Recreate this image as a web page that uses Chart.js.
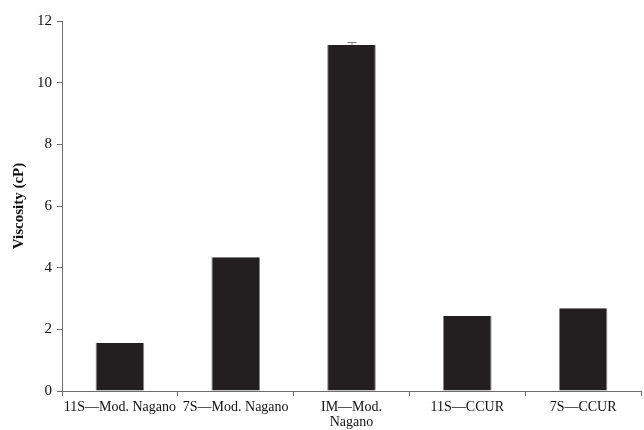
<!DOCTYPE html>
<html>
<head>
<meta charset="utf-8">
<script src="https://cdn.jsdelivr.net/npm/chart.js@4.4.1/dist/chart.umd.min.js"></script>
<style>
  html, body { margin: 0; padding: 0; background: #fff; }
  #wrap { width: 644px; height: 430px; }
</style>
</head>
<body>
<div id="wrap"><canvas id="c" width="644" height="430"></canvas></div>
<script>
// Viscosity of protein isolates by preparation method
const categories = [
  '11S\u2014Mod. Nagano',
  '7S\u2014Mod. Nagano',
  ['IM\u2014Mod.', 'Nagano'],
  '11S\u2014CCUR',
  '7S\u2014CCUR'
];
const viscosity = [1.56, 4.34, 11.22, 2.43, 2.68];
const viscosityErr = [0, 0, 0.1, 0, 0];
const yTicks = [0, 2, 4, 6, 8, 10, 12];

const serif = '"Liberation Serif", "DejaVu Serif", serif';
const axisColor = '#6d6d6d';

// Draws upward error whiskers with caps from the error array
const errorBars = {
  id: 'errorBars',
  afterDatasetsDraw(chart) {
    const ctx = chart.ctx;
    const meta = chart.getDatasetMeta(0);
    const y = chart.scales.y;
    ctx.save();
    ctx.strokeStyle = '#777';
    ctx.lineWidth = 1;
    meta.data.forEach((bar, i) => {
      const e = viscosityErr[i];
      if (!e) return;
      const top = y.getPixelForValue(viscosity[i] + e);
      const base = y.getPixelForValue(viscosity[i]);
      ctx.beginPath();
      ctx.moveTo(bar.x + 0.5, base);
      ctx.lineTo(bar.x + 0.5, top);
      ctx.moveTo(bar.x - 4, top + 0.5);
      ctx.lineTo(bar.x + 5, top + 0.5);
      ctx.stroke();
    });
    ctx.restore();
  }
};

new Chart(document.getElementById('c'), {
  type: 'bar',
  data: {
    labels: categories,
    datasets: [{
      data: viscosity,
      backgroundColor: '#231f20',
      borderColor: '#8a8a8a',
      borderWidth: { top: 0, left: 1, right: 1, bottom: 0 },
      categoryPercentage: 1,
      barPercentage: 0.42
    }]
  },
  options: {
    responsive: false,
    animation: false,
    layout: { padding: { top: 21, right: 3, left: 10, bottom: 0 } },
    plugins: { legend: { display: false }, tooltip: { enabled: false } },
    scales: {
      x: {
        grid: {
          display: true,
          offset: true,
          drawOnChartArea: false,
          drawTicks: true,
          tickLength: 5,
          color: axisColor
        },
        border: { display: true, color: axisColor, width: 1 },
        ticks: {
          color: '#111',
          font: { family: serif, size: 14, lineHeight: 1.05 },
          maxRotation: 0,
          autoSkip: false,
          padding: 4
        },
        afterFit(scale) { scale.height = 39; }
      },
      y: {
        min: 0,
        max: 12,
        afterBuildTicks(scale) { scale.ticks = yTicks.map(v => ({ value: v })); },
        grid: {
          display: true,
          drawOnChartArea: false,
          drawTicks: true,
          tickLength: 5,
          color: axisColor
        },
        border: { display: true, color: axisColor, width: 1 },
        ticks: {
          color: '#111',
          font: { family: serif, size: 15 },
          padding: 5
        },
        title: {
          display: true,
          text: 'Viscosity (cP)',
          color: '#111',
          font: { family: serif, size: 15, weight: 'bold' },
          padding: { top: 0, bottom: 6 }
        },
        afterFit(scale) { scale.width = 52; }
      }
    }
  },
  plugins: [errorBars]
});
</script>
</body>
</html>
